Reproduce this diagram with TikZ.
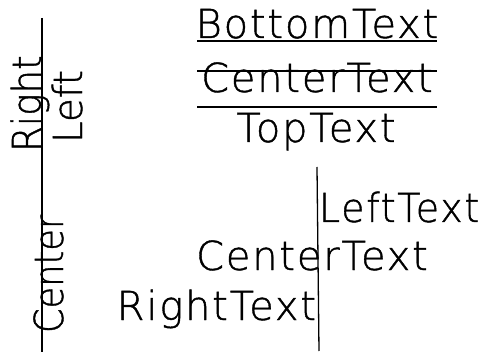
\documentclass[tikz,border=0pt]{standalone}
\usepackage{fontspec}
\newfontfamily\hfont[FakeBold=1]{DejaVu Sans ExtraLight}
\newfontfamily\hfontls[FakeBold=1,LetterSpace=4.5]{DejaVu Sans ExtraLight}
\tikzset{
  lbl/.style={inner sep=0pt, outer sep=0pt, font=\hfontls\fontsize{40}{40}\selectfont},
  rlbl/.style={inner sep=0pt, outer sep=0pt, font=\hfont\fontsize{40}{40}\selectfont, rotate=90},
  rule/.style={line width=1.3pt, black},
}
\begin{document}
\begin{tikzpicture}[x=1pt, y=-1pt]
\useasboundingbox (0,0) rectangle (487,355);
% left vertical reference line
\coordinate (lt) at (42,18);
\coordinate (lb) at (42,352);
\draw[rule] (lt) -- (lb);
\node[rlbl, anchor=base west] (vright) at (41,152) {\scalebox{0.93}[1]{Right}};
\node[rlbl, anchor=base west] (vleft) at (82,143) {\scalebox{0.97}[1]{Left}};
\node[rlbl, anchor=base west] (vcenter) at (63,333) {\scalebox{0.88}[1]{Center}};
% top group
\node[lbl, anchor=base] (bot) at (317,38) {BottomText};
\coordinate (u1) at (197,41);
\coordinate (u2) at (437,41);
\draw[rule] (u1) -- (u2);
\node[lbl, anchor=base] (cen) at (317,92) {CenterText};
\coordinate (s1) at (197,71);
\coordinate (s2) at (437,71);
\draw[rule] (s1) -- (s2);
\coordinate (t1) at (197,107);
\coordinate (t2) at (437,107);
\draw[rule] (t1) -- (t2);
\node[lbl, anchor=base] (top) at (316,142) {TopText};
% right vertical reference line
\coordinate (rt) at (317,167);
\coordinate (rb) at (319,351);
\draw[rule] (rt) -- (rb);
\node[lbl, anchor=base west] (hleft) at (319,222) {\scalebox{0.95}[1]{LeftText}};
\node[lbl, anchor=base] (hcenter) at (312,270) {CenterText};
\node[lbl, anchor=base east] (hright) at (316,320) {RightText};
\end{tikzpicture}
\end{document}
